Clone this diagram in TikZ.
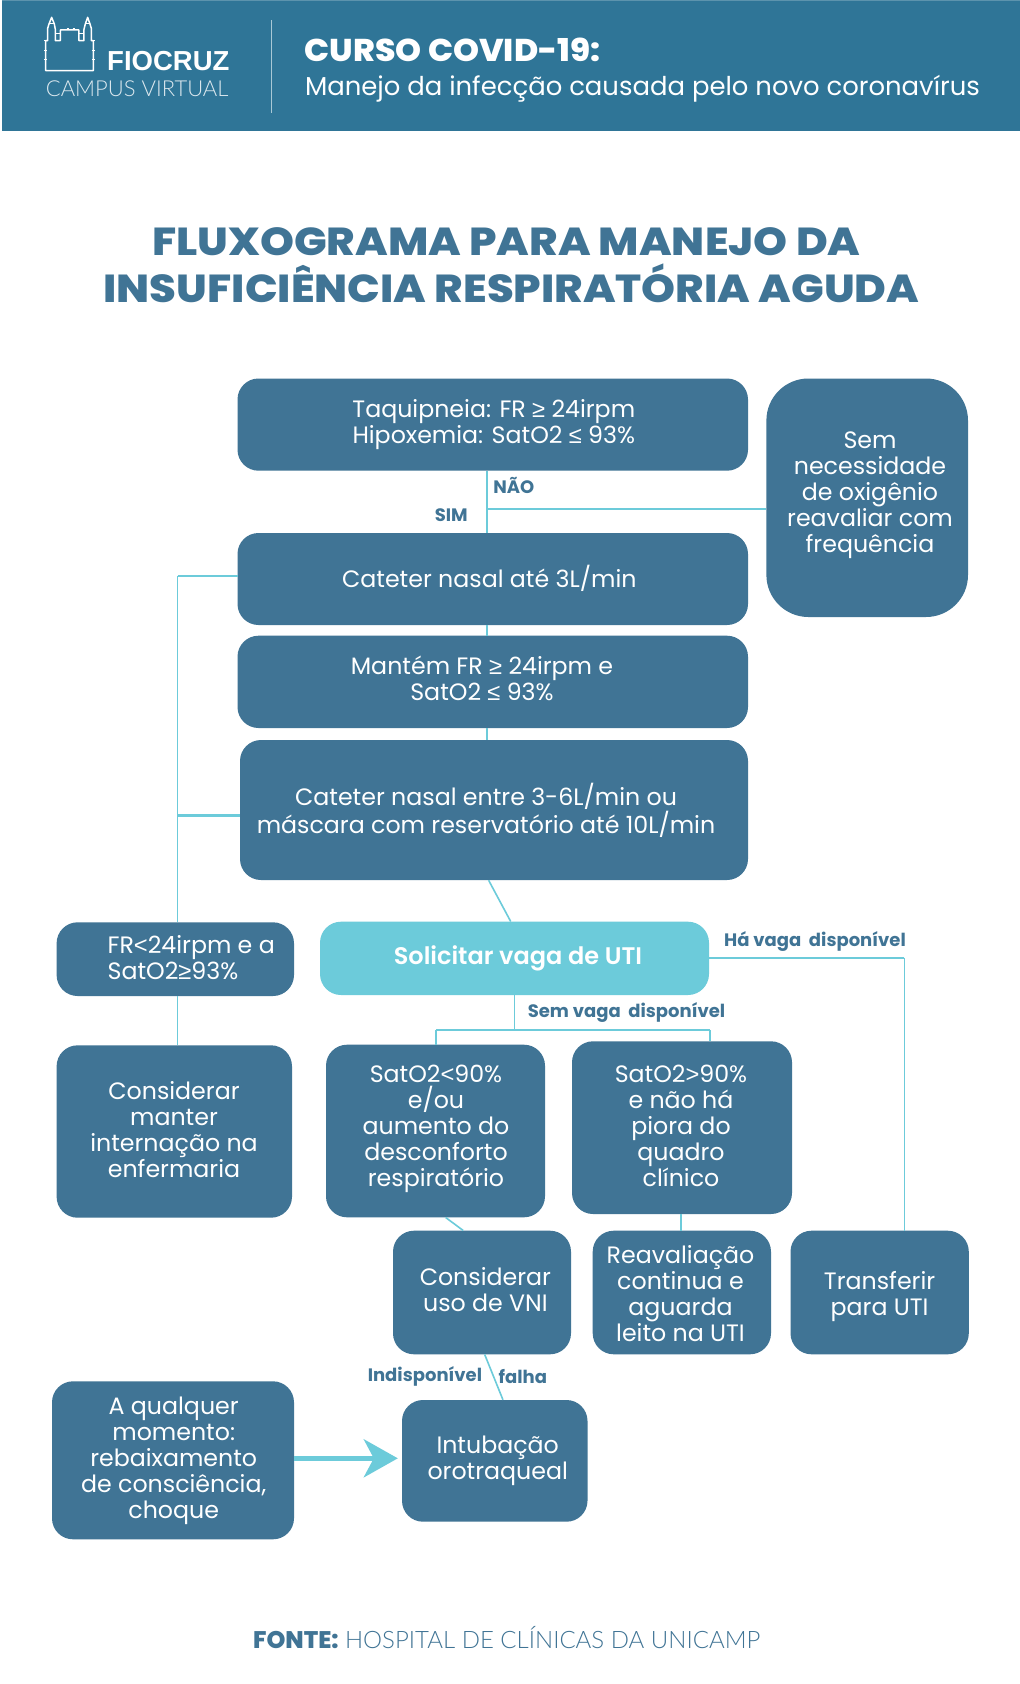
\documentclass[tikz,border=0pt]{standalone}
\usepackage{fontspec}
\setmainfont{Poppins}
\newfontfamily\logobold{Liberation Sans}
\newfontfamily\symf{Liberation Sans}
\newfontfamily\lightf{Lato Light}
\newfontfamily\xbold{Poppins ExtraBold}
\newfontfamily\sbold{Poppins SemiBold}
\newcommand{\sy}[1]{{\symf #1}}
\usetikzlibrary{calc,arrows.meta}
\definecolor{hdr}{HTML}{2F7597}
\definecolor{hdrtop}{HTML}{5C93AD}
\definecolor{boxc}{HTML}{407495}
\definecolor{lite}{HTML}{6CCBDA}
\definecolor{divc}{HTML}{A9C9D6}
\tikzset{
  x=1pt,y=-1pt,
  box/.style={draw=none,fill=boxc,rounded corners=21pt,inner sep=0pt},
  litebox/.style={box,fill=lite},
  txt/.style={inner sep=0pt,align=center,text=white,font=\fontsize{23.7}{26}\selectfont},
  lbl/.style={inner sep=0pt,text=boxc,font=\bfseries\fontsize{18}{20}\selectfont},
  ttl/.style={inner sep=0pt,anchor=base,text=boxc,font=\xbold\fontsize{39}{40}\selectfont},
  conn/.style={draw=lite,line width=1.6pt},
  connw/.style={draw=lite,line width=2.2pt},
}
\newcommand{\bx}[6][]{%
  \pgfmathsetmacro\wW{#5-#3}\pgfmathsetmacro\hH{#6-#4}%
  \pgfmathsetmacro\cX{(#3+#5)/2}\pgfmathsetmacro\cY{(#4+#6)/2}%
  \node[box,minimum width=\wW pt,minimum height=\hH pt,#1] (#2) at (\cX,\cY) {};}
\begin{document}
\begin{tikzpicture}
\useasboundingbox (0,0) rectangle (1020,1684);
\fill[white] (0,0) rectangle (1020,1684);
% header
\fill[hdr] (1.7,0) rectangle (1020,131);
\fill[hdrtop] (1.7,0) rectangle (1020,1);
\draw[divc,line width=1pt] (271,20) -- (271,112.6);
% logo
\begin{scope}[x=0.3333pt,y=-0.3333pt]
\draw[white,line width=1.5pt,line join=round]
 (137,212)--(137,122)--(143,122)--(143,85)--(147,72)--(155,52)--(163,72)--(166,88)--(166,122)--(181,122)--(181,90)--(237,90)--(237,122)--(252,122)--(252,88)--(256,72)--(263,52)--(270,72)--(274,85)--(274,122)--(280,122)--(280,212)--cycle;
\draw[white,line width=1pt] (166,100)--(181,100) (237,100)--(252,100) (147,72)--(163,72) (256,72)--(270,72);
\draw[white,line width=1pt] (133,122)--(141,122) (276,122)--(284,122) (133,152)--(141,152) (276,152)--(284,152) (133,180)--(141,180) (276,180)--(284,180) (200,87)--(206,87) (218,87)--(224,87);
\end{scope}
\node[inner sep=0pt,anchor=base west,text=white,font=\logobold\bfseries\fontsize{27.5}{27}\selectfont] (fio) at (107,70.7) {FIOCRUZ};
\node[inner sep=0pt,anchor=base west,text=divc!40!white,font=\lightf\fontsize{22}{23}\selectfont] (cv) at (45.7,96) {CAMPUS VIRTUAL};
\node[inner sep=0pt,anchor=base west,text=white,font=\xbold\fontsize{31.5}{32}\selectfont] (hd1) at (304.5,61.7) {\scalebox{1.05}[1]{CURSO COVID-19:}};
\node[inner sep=0pt,anchor=base west,text=white,font=\fontsize{25.9}{26}\selectfont] (hd2) at (304.8,95.6) {Manejo da infecção causada pelo novo coronavírus};
% title
\node[ttl] (t1) at (506.3,255) {\scalebox{1.108}[1]{FLUXOGRAMA PARA MANEJO DA}};
\node[ttl] (t2) at (511.4,302.7) {\scalebox{1.108}[1]{INSUFICIÊNCIA RESPIRATÓRIA AGUDA}};
% boxes
\bx{taq}{237.5}{378.5}{748}{470.7}
\bx[rounded corners=42pt]{sem}{766.4}{378.5}{968}{617}
\bx{cat}{237.5}{533}{748}{625}
\bx{man}{237.5}{635.7}{748}{728}
\bx{catb}{240}{740}{748}{880}
\bx{fr}{56.6}{922.3}{294}{996}
\bx[litebox]{sol}{320}{921.7}{709}{995}
\bx{cons}{56.6}{1045.3}{292}{1217.7}
\bx{low}{326}{1044.7}{545}{1217.3}
\bx{high}{572}{1041.3}{792}{1214}
\bx{vni}{393}{1230.7}{571}{1354.3}
\bx{rea}{592.7}{1230.7}{771}{1354.3}
\bx{tra}{790.5}{1230.7}{968.8}{1354.3}
\bx{qual}{52}{1381.3}{294}{1539.3}
\bx{int}{402}{1400}{587.5}{1521.7}
% texts
\node[txt] (taqt) at (493.8,425) {Taquipneia: FR \sy{≥} 24irpm\\Hipoxemia: SatO2 \sy{≤} 93\%};
\node[txt] (semt) at (870,495.7) {Sem\\necessidade\\de oxigênio\\reavaliar com\\frequência};
\node[txt] (catt) at (489.3,578.5) {Cateter nasal até 3L/min};
\node[txt] (mant) at (482,678) {Mantém FR \sy{≥} 24irpm e\\SatO2 \sy{≤} 93\%};
\node[txt] (catbt) at (486,810.5) {Cateter nasal entre 3-6L/min ou\\máscara com reservatório até 10L/min};
\node[txt,align=left,anchor=west] (frt) at (107.4,958) {FR\sy{<}24irpm e a\\SatO2\sy{≥}93\%};
\node[txt,font=\sbold\fontsize{24}{26}\selectfont] (solt) at (518,958.7) {Solicitar vaga de UTI};
\node[txt] (const) at (174,1129.5) {Considerar\\manter\\internação na\\enfermaria};
\node[txt] (lowt) at (436,1128.7) {SatO2\sy{<}90\%\\e/ou\\aumento do\\desconforto\\respiratório};
\node[txt] (hight) at (681,1125.7) {SatO2\sy{>}90\%\\e não há\\piora do\\quadro\\clínico};
\node[txt] (vnit) at (485.4,1290) {Considerar\\uso de VNI};
\node[txt] (reat) at (680.5,1293.7) {Reavaliação\\continua e\\aguarda\\leito na UTI};
\node[txt] (trat) at (879.6,1296.3) {Transferir\\para UTI};
\node[txt] (qualt) at (173.7,1461) {A qualquer\\momento:\\rebaixamento\\de consciência,\\choque};
\node[txt] (intt) at (497.7,1460.5) {Intubação\\orotraqueal};
% connector anchors
\coordinate (xa) at (486.7,509.3);
\coordinate (xl) at (177.6,0);
\coordinate (jn) at (514.6,1030);
\coordinate (ln) at (436,1030);
\coordinate (rn) at (709.8,1030);
\coordinate (cr) at (904.4,957.7);
\coordinate (ay) at (0,1458.3);
% connectors
\draw[conn] (taq.south -| xa) -- (cat.north -| xa);
\draw[connw] (xa) -- (xa -| sem.west);
\draw[conn] (cat.south -| xa) -- (man.north -| xa);
\draw[conn] (man.south -| xa) -- (catb.north -| xa);
\draw[connw] (xl |- 0,576) -- (237.5,576);
\draw[connw] (xl |- 0,815.4) -- (catb.west |- 0,815.4);
\draw[conn] (xl |- 0,576) -- (fr.north -| xl);
\draw[conn] (fr.south -| xl) -- (cons.north -| xl);
\draw[conn] ($(catb.south)+(-5.4,0)$) -- ($(sol.north)+(-3.8,0)$);
\draw[conn] (sol.south -| jn) -- (jn);
\draw[connw] (ln) -- (rn);
\draw[conn] (ln) -- (low.north -| ln);
\draw[conn] (rn) -- (high.north -| rn);
\draw[connw] (sol.east |- cr) -- (cr);
\draw[conn] (cr) -- (tra.north -| cr);
\draw[conn] ($(low.south)+(10.2,0)$) -- ($(vni.north)+(-18.8,0)$);
\draw[conn] (high.south -| 681.2,0) -- (rea.north -| 681.2,0);
\draw[conn] ($(vni.south)+(2.7,0)$) -- ($(int.north)+(8.2,0)$);
\draw[draw=lite,line width=4.8pt,-{Stealth[length=34pt,width=38pt,inset=10pt,fill=lite]},shorten >=4pt] (qual.east |- ay) -- (int.west |- ay);
% labels
\node[lbl,anchor=west] (nao) at (493.2,485.4) {NÃO};
\node[lbl,anchor=west] (sim) at (434.6,515) {SIM};
\node[lbl,anchor=west] (hav) at (724,941) {Há vaga\ \ disponível};
\node[lbl,anchor=west] (sv) at (527.6,1012.7) {Sem vaga\ \ disponível};
\node[lbl,anchor=west] (ind) at (367.6,1376) {Indisponível};
\node[lbl,anchor=west] (fal) at (498.4,1376) {falha};
% footer
\node[inner sep=0pt,anchor=base,text=boxc,font=\fontsize{24}{24}\selectfont] (fon) at (506.7,1648.3) {{\xbold FONTE:} {\lightf HOSPITAL DE CLÍNICAS DA UNICAMP}};
\end{tikzpicture}
\end{document}
